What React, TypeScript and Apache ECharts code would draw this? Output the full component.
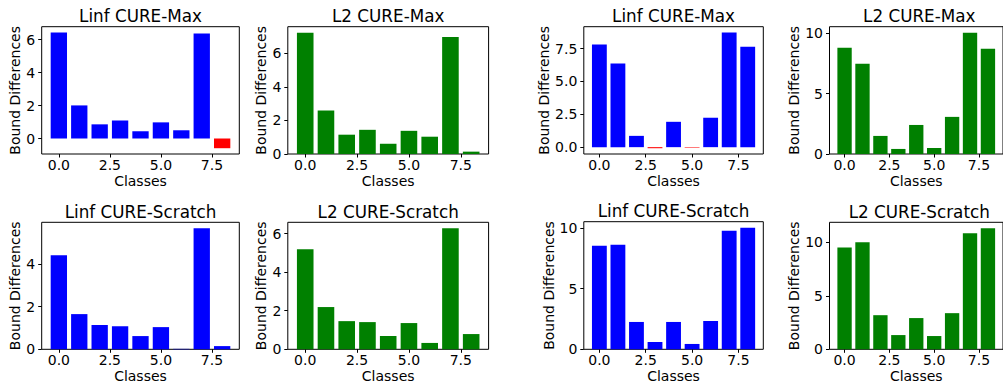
import React, { useEffect, useRef } from "react";
import * as echarts from "echarts";

const classes = [0, 1, 2, 3, 4, 5, 6, 7, 8];
const xTicks = [0, 2.5, 5, 7.5];

const titles = [
  "Linf CURE-Max",
  "L2 CURE-Max",
  "Linf CURE-Max",
  "L2 CURE-Max",
  "Linf CURE-Scratch",
  "L2 CURE-Scratch",
  "Linf CURE-Scratch",
  "L2 CURE-Scratch",
];

const linfMaxA = [6.44, 2.01, 0.86, 1.1, 0.44, 0.98, 0.5, 6.38, -0.59];
const l2MaxA = [7.22, 2.59, 1.15, 1.44, 0.61, 1.38, 1.03, 6.97, 0.14];
const linfMaxB = [7.81, 6.36, 0.86, -0.08, 1.93, -0.04, 2.24, 8.73, 7.65];
const l2MaxB = [8.81, 7.48, 1.5, 0.42, 2.41, 0.5, 3.08, 10.06, 8.73];
const linfScrA = [4.41, 1.65, 1.14, 1.08, 0.62, 1.04, 0.02, 5.67, 0.15];
const l2ScrA = [5.19, 2.19, 1.46, 1.41, 0.69, 1.36, 0.33, 6.27, 0.79];
const linfScrB = [8.52, 8.6, 2.25, 0.6, 2.25, 0.44, 2.33, 9.75, 10.0];
const l2ScrB = [9.53, 10.0, 3.19, 1.33, 2.92, 1.24, 3.38, 10.84, 11.31];

const yTicksA = [0, 2, 4, 6];
const yTicksB = [0, 2.5, 5, 7.5];
const yTicksC = [0, 5, 10];
const yTicksD = [0, 2, 4];

const seriesValues = [linfMaxA, l2MaxA, linfMaxB, l2MaxB, linfScrA, l2ScrA, linfScrB, l2ScrB];
const yTickSets = [yTicksA, yTicksA, yTicksB, yTicksC, yTicksD, yTicksA, yTicksC, yTicksC];
const yDecimals = [0, 0, 1, 0, 0, 0, 0, 0];

const BLUE = "#0000ff";
const GREEN = "#008000";
const RED = "#ff0000";
const FONT = "DejaVu Sans";

// pixel layout of each plot area: [left, top, width, height]
const rects = [
  [41.7, 26.7, 197.6, 127.3],
  [287.8, 26.7, 200.8, 127.3],
  [583.8, 26.7, 179.5, 127.3],
  [829.5, 26.7, 179.5, 127.3],
  [41.7, 222.3, 197.6, 127],
  [287.8, 222.3, 200.8, 127],
  [583.8, 221.7, 179.5, 127.6],
  [829.5, 222.3, 179.5, 127],
];
const yNameGaps = [13, 14, 26.5, 22, 13, 14, 22.5, 22];

function yRange(vals: number[]) {
  const lo = Math.min(0, ...vals);
  const hi = Math.max(0, ...vals);
  const m = (hi - lo) * 0.05;
  return [lo < 0 ? lo - m : 0, hi > 0 ? hi + m : 0];
}

export default function App() {
  const ref = useRef<HTMLDivElement>(null);
  useEffect(() => {
    if (!ref.current) return;
    const chart = echarts.init(ref.current, undefined, { renderer: "svg" });
    const grids: any[] = [];
    const xAxes: any[] = [];
    const yAxes: any[] = [];
    const series: any[] = [];
    const graphics: any[] = [];
    seriesValues.forEach((vals, i) => {
      const [l, t, w, h] = rects[i];
      const color = titles[i].startsWith("Linf") ? BLUE : GREEN;
      const [ymin, ymax] = yRange(vals);
      grids.push({
        left: l,
        top: t,
        width: w,
        height: h,
        show: true,
        borderColor: "#000",
        borderWidth: 1,
        backgroundColor: "transparent",
        containLabel: false,
      });
      xAxes.push({
        gridIndex: i,
        type: "value",
        min: -0.84,
        max: 8.84,
        axisLine: { show: false, onZero: false },
        splitLine: { show: false },
        axisTick: { show: true, customValues: xTicks, length: 3.5, lineStyle: { color: "#000", width: 1 } },
        axisLabel: {
          customValues: xTicks,
          formatter: (v: number) => v.toFixed(1),
          fontSize: 14,
          color: "#000",
          fontFamily: FONT,
          margin: 4,
        },
        name: "Classes",
        nameLocation: "middle",
        nameGap: 20,
        nameTextStyle: { fontSize: 14, color: "#000", fontFamily: FONT },
      });
      yAxes.push({
        gridIndex: i,
        type: "value",
        min: ymin,
        max: ymax,
        axisLine: { show: false, onZero: false },
        splitLine: { show: false },
        axisTick: { show: true, customValues: yTickSets[i], length: 3.5, lineStyle: { color: "#000", width: 1 } },
        axisLabel: {
          customValues: yTickSets[i],
          formatter: (v: number) => v.toFixed(yDecimals[i]),
          fontSize: 14,
          color: "#000",
          fontFamily: FONT,
          margin: 6.5,
        },
        name: "Bound Differences",
        nameLocation: "middle",
        nameRotate: 90,
        nameGap: yNameGaps[i],
        nameTextStyle: { fontSize: 14, color: "#000", fontFamily: FONT },
      });
      series.push({
        type: "custom",
        xAxisIndex: i,
        yAxisIndex: i,
        data: classes.map((c, k) => [c, vals[k]]),
        encode: { x: 0, y: 1 },
        renderItem: (params: any, api: any) => {
          const x = api.value(0);
          const y = api.value(1);
          const p1 = api.coord([x - 0.4, y]);
          const p2 = api.coord([x + 0.4, 0]);
          return {
            type: "rect",
            shape: {
              x: p1[0],
              y: Math.min(p1[1], p2[1]),
              width: p2[0] - p1[0],
              height: Math.abs(p2[1] - p1[1]),
            },
            style: { fill: y < 0 ? RED : color },
          };
        },
      });
      graphics.push({
        type: "text",
        x: l + w / 2,
        y: t - 19,
        style: {
          text: titles[i],
          fontSize: 16.8,
          fontFamily: FONT,
          fill: "#000",
          textAlign: "center",
          textVerticalAlign: "top",
        },
      });
    });
    chart.setOption({
      animation: false,
      backgroundColor: "#fff",
      grid: grids,
      xAxis: xAxes,
      yAxis: yAxes,
      series,
      graphic: graphics,
    });
    return () => chart.dispose();
  }, []);
  return (
    <div
      ref={ref}
      style={{ position: "fixed", left: 0, top: 0, width: 1003, height: 388 }}
    />
  );
}
